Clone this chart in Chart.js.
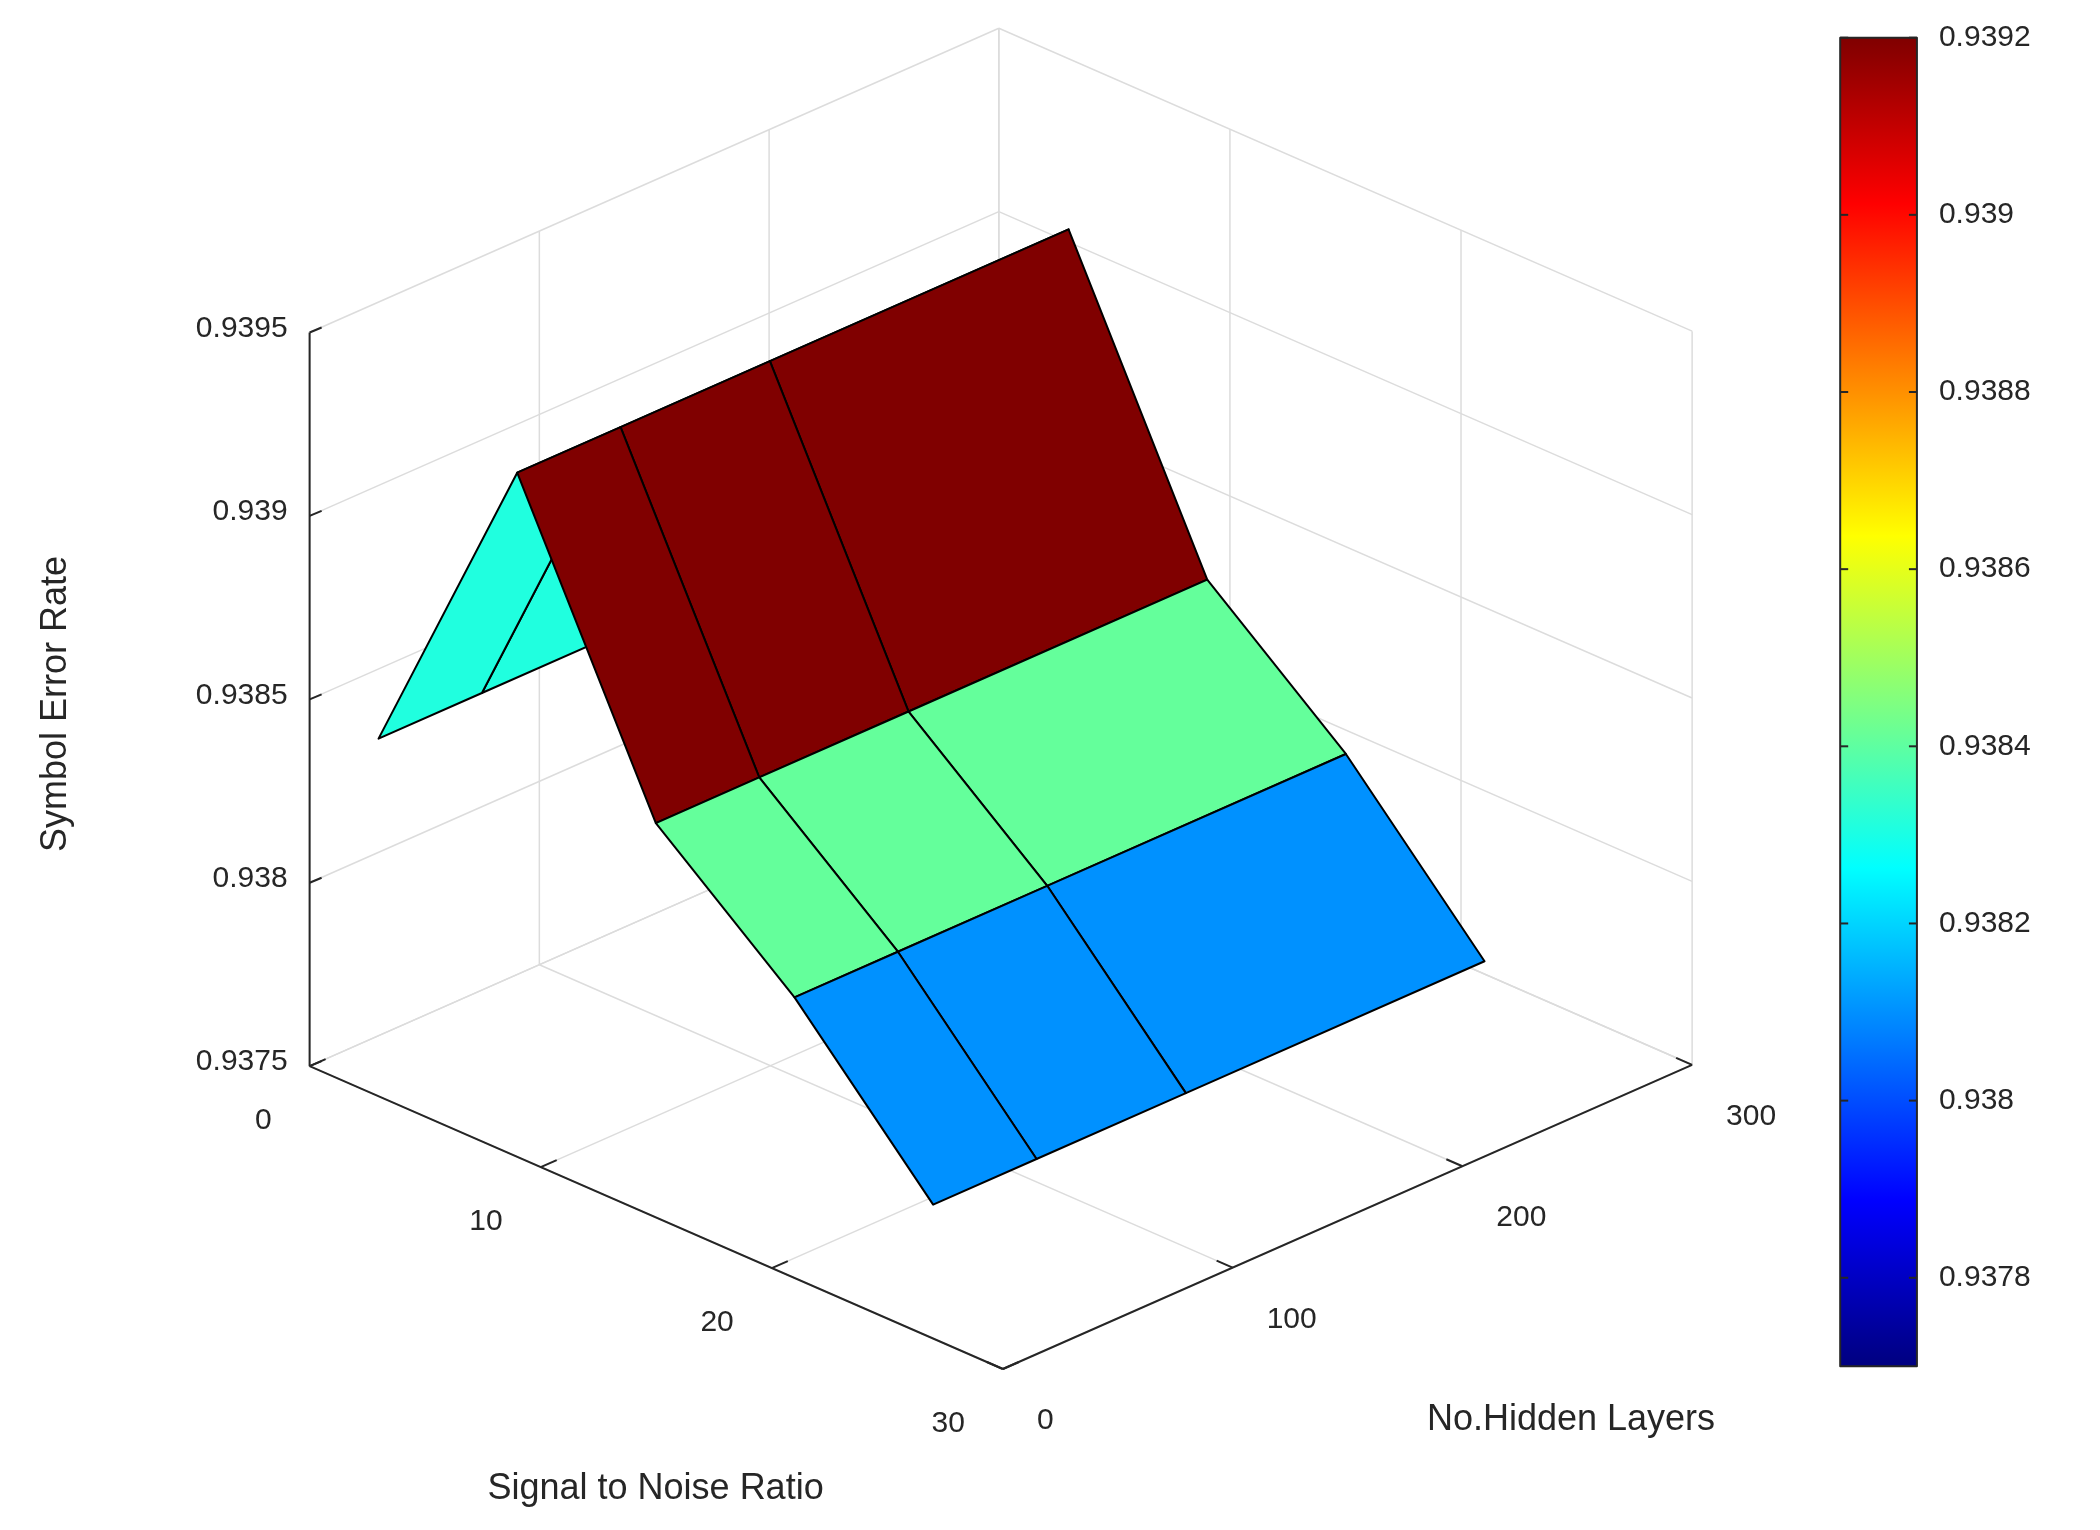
<!DOCTYPE html>
<html><head><meta charset="utf-8">
<script src="https://cdn.jsdelivr.net/npm/chart.js@4"></script>
<style>html,body{margin:0;padding:0;background:#fff}canvas{display:block}</style>
</head><body>
<canvas id="c" width="2100" height="1530" style="width:2100px;height:1530px"></canvas>
<script>
// ---- data ----
const snrValues = [0, 6, 12, 18, 24];
const hiddenLayers = [30, 75, 140, 270];
const symbolErrorRate = [0.93831, 0.9392, 0.93841, 0.9381, 0.9377]; // per SNR row, constant over hidden layers
const zTickLabels = ['0.9375', '0.938', '0.9385', '0.939', '0.9395'];
const snrTicks = [0, 10, 20, 30];
const hlTicks = [0, 100, 200, 300];
const cbTickLabels = ['0.9378', '0.938', '0.9382', '0.9384', '0.9386', '0.9388', '0.939', '0.9392'];
const cLim = [0.9377, 0.9392];
const zLim = [0.9375, 0.9395];

const K = 2100 / 1560;
function jet(t){
  t = Math.max(0, Math.min(1, t));
  const c = v => Math.round(255 * Math.max(0, Math.min(1, v)));
  return `rgb(${c(1.5 - Math.abs(4*t - 3))},${c(1.5 - Math.abs(4*t - 2))},${c(1.5 - Math.abs(4*t - 1))})`;
}

const plugin = {
  id: 'surf3d',
  afterDraw(chart){
    const ctx = chart.ctx, xs = chart.scales.x, ys = chart.scales.y;
    const P = (x, y) => [xs.getPixelForValue(x * K), ys.getPixelForValue(y * K)];
    const proj = (s, h, z) => P(230 + s/30*515 + h/300*512,
                                792 + s/30*225 - h/300*226 - (z - zLim[0])/(zLim[1]-zLim[0])*545);
    const line = (a, b, col, w) => { ctx.beginPath(); ctx.moveTo(a[0], a[1]); ctx.lineTo(b[0], b[1]); ctx.strokeStyle = col; ctx.lineWidth = w; ctx.stroke(); };
    const z0 = zLim[0], z1 = zLim[1];
    const zt = zTickLabels.map(Number);
    const grid = '#dcdcdc';
    ctx.save();
    // grid: back wall s=0
    hlTicks.forEach(h => line(proj(0,h,z0), proj(0,h,z1), grid, 1.5));
    zt.forEach(z => line(proj(0,0,z), proj(0,300,z), grid, 1.5));
    // back wall h=300
    snrTicks.forEach(s => line(proj(s,300,z0), proj(s,300,z1), grid, 1.5));
    zt.forEach(z => line(proj(0,300,z), proj(30,300,z), grid, 1.5));
    // floor
    snrTicks.forEach(s => line(proj(s,0,z0), proj(s,300,z0), grid, 1.5));
    hlTicks.forEach(h => line(proj(0,h,z0), proj(30,h,z0), grid, 1.5));
    // axes
    const ax = '#262626';
    line(proj(0,0,z0), proj(0,0,z1), ax, 2);
    line(proj(0,0,z0), proj(30,0,z0), ax, 2);
    line(proj(30,0,z0), proj(30,300,z0), ax, 2);
    ctx.fillStyle = ax;
    ctx.font = '30px "Liberation Sans", Arial, sans-serif';
    // z ticks
    ctx.textAlign = 'right'; ctx.textBaseline = 'middle';
    zt.forEach((z, i) => {
      const p = proj(0,0,z); line(p, [p[0]+12, p[1]-5], ax, 2);
      ctx.fillText(zTickLabels[i], p[0] - 22, p[1] - 4);
    });
    snrTicks.forEach(s => {
      const p = proj(s,0,z0); line(p, [p[0]+16, p[1]-7], ax, 2);
      ctx.textAlign = 'right'; ctx.fillText(String(s), p[0] - 38, p[1] + 55);
    });
    hlTicks.forEach(h => {
      const p = proj(30,h,z0); line(p, [p[0]-16, p[1]-7], ax, 2);
      ctx.textAlign = 'left'; ctx.fillText(String(h), p[0] + 34, p[1] + 52);
    });
    // axis titles
    ctx.font = '36px "Liberation Sans", Arial, sans-serif';
    ctx.textAlign = 'center';
    let p = P(487, 1106); ctx.fillText('Signal to Noise Ratio', p[0], p[1]);
    p = P(1167, 1055); ctx.fillText('No.Hidden Layers', p[0], p[1]);
    p = P(42, 523); ctx.save(); ctx.translate(p[0], p[1]); ctx.rotate(-Math.PI/2); ctx.fillText('Symbol Error Rate', 0, 0); ctx.restore();

    // surface faces, painter's order
    const faces = [];
    for (let i = 0; i < snrValues.length - 1; i++)
      for (let j = 0; j < hiddenLayers.length - 1; j++) {
        const sm = (snrValues[i] + snrValues[i+1]) / 2, hm = (hiddenLayers[j] + hiddenLayers[j+1]) / 2;
        faces.push({i, j, d: sm/30*225 - hm/300*226});
      }
    faces.sort((a, b) => a.d - b.d);
    faces.forEach(f => {
      const {i, j} = f;
      const pts = [proj(snrValues[i], hiddenLayers[j], symbolErrorRate[i]),
                   proj(snrValues[i+1], hiddenLayers[j], symbolErrorRate[i+1]),
                   proj(snrValues[i+1], hiddenLayers[j+1], symbolErrorRate[i+1]),
                   proj(snrValues[i], hiddenLayers[j+1], symbolErrorRate[i])];
      ctx.beginPath(); ctx.moveTo(pts[0][0], pts[0][1]);
      pts.slice(1).forEach(q => ctx.lineTo(q[0], q[1])); ctx.closePath();
      ctx.fillStyle = jet((symbolErrorRate[i] - cLim[0]) / (cLim[1] - cLim[0]));
      ctx.fill(); ctx.strokeStyle = '#000'; ctx.lineWidth = 2; ctx.lineJoin = 'round'; ctx.stroke();
    });

    // colorbar
    const tl = P(1367, 28), br = P(1424, 1015);
    const g = ctx.createLinearGradient(0, br[1], 0, tl[1]);
    for (let k = 0; k <= 64; k++) g.addColorStop(k/64, jet(k/64));
    ctx.fillStyle = g; ctx.fillRect(tl[0], tl[1], br[0]-tl[0], br[1]-tl[1]);
    ctx.strokeStyle = ax; ctx.lineWidth = 2; ctx.strokeRect(tl[0], tl[1], br[0]-tl[0], br[1]-tl[1]);
    ctx.font = '30px "Liberation Sans", Arial, sans-serif';
    ctx.textAlign = 'left'; ctx.textBaseline = 'middle'; ctx.fillStyle = ax;
    cbTickLabels.forEach(lbl => {
      const v = Number(lbl);
      const y = P(0, 1015 - (v - cLim[0]) / (cLim[1] - cLim[0]) * 987)[1];
      line([tl[0], y], [tl[0]+8, y], ax, 2);
      line([br[0], y], [br[0]-8, y], ax, 2);
      ctx.fillText(lbl, br[0] + 22, y);
    });
    ctx.restore();
  }
};

new Chart(document.getElementById('c'), {
  type: 'scatter',
  data: { datasets: [{ data: [], pointRadius: 0 }] },
  options: {
    responsive: false, animation: false, devicePixelRatio: 1,
    layout: { padding: 0 },
    plugins: { legend: { display: false }, tooltip: { enabled: false } },
    scales: {
      x: { type: 'linear', min: 0, max: 2100, display: false },
      y: { type: 'linear', min: 0, max: 1530, reverse: true, display: false }
    }
  },
  plugins: [plugin]
});
</script>
</body></html>
